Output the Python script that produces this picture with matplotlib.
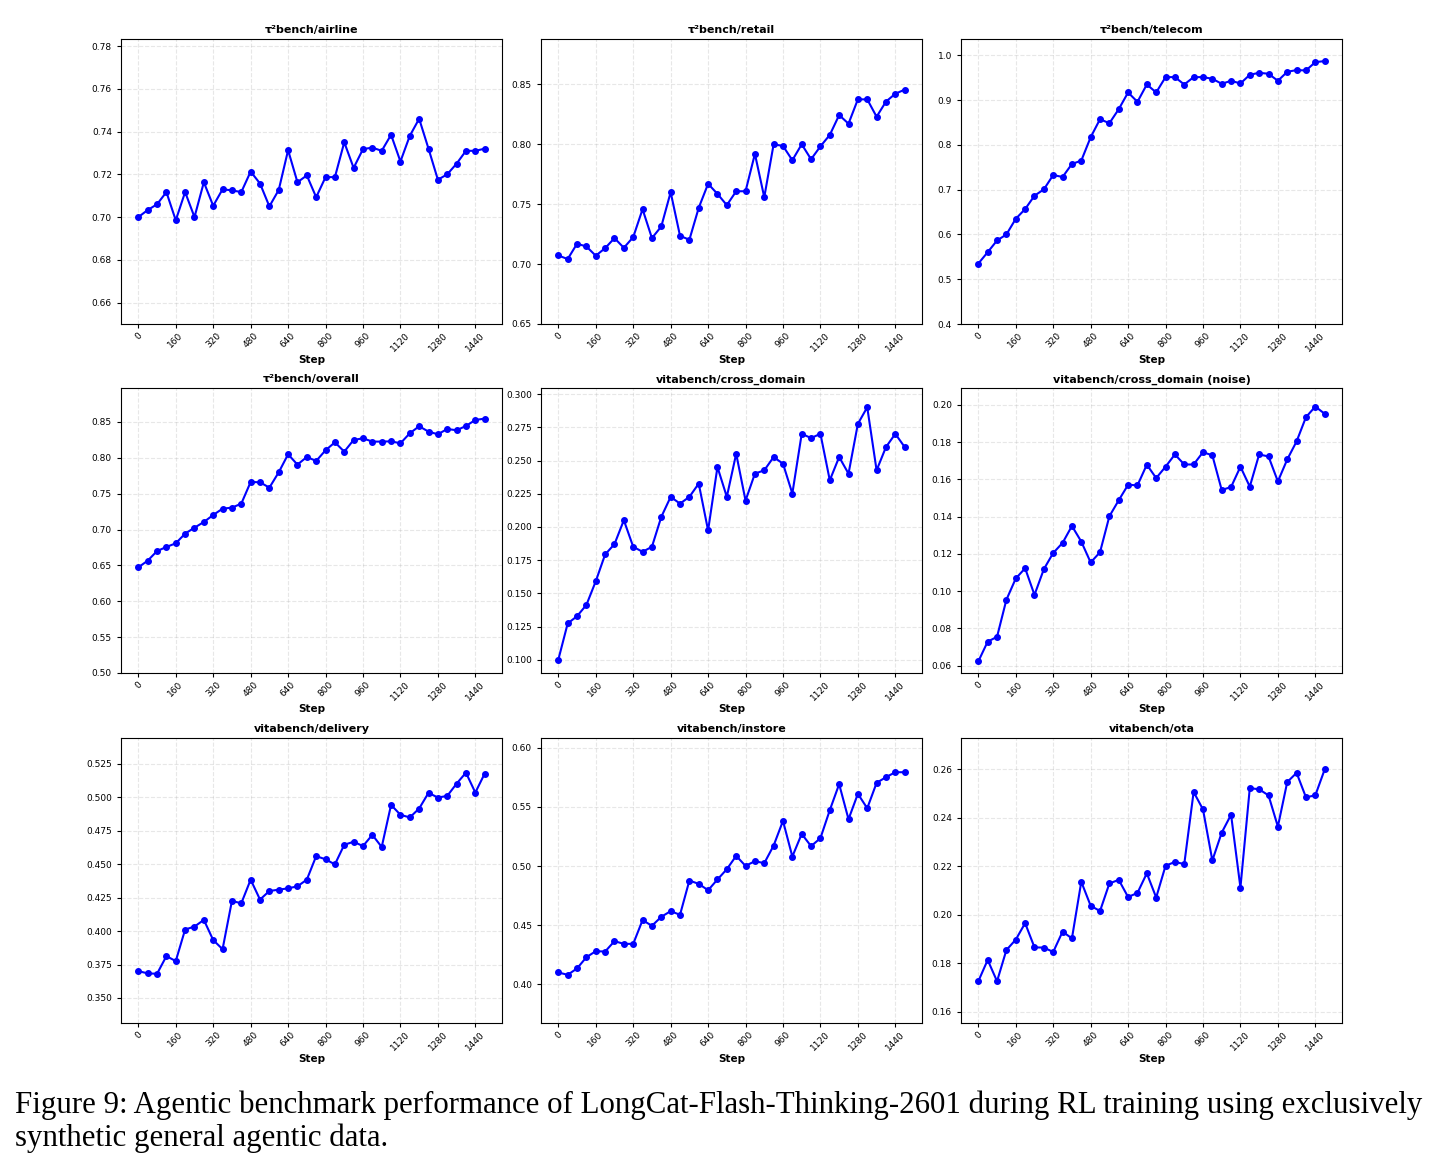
import matplotlib.pyplot as plt
import numpy as np

# steps logged every 40 training steps
steps = list(range(0, 1481, 40))

titles = [
    "τ²bench/airline", "τ²bench/retail", "τ²bench/telecom",
    "τ²bench/overall", "vitabench/cross_domain", "vitabench/cross_domain (noise)",
    "vitabench/delivery", "vitabench/instore", "vitabench/ota",
]

airline = [0.700, 0.7033, 0.706, 0.7117, 0.6985, 0.7117, 0.700, 0.7163, 0.7053, 0.713,
           0.7125, 0.7117, 0.7213, 0.7157, 0.705, 0.7127, 0.7313, 0.7163, 0.7195, 0.7093,
           0.7187, 0.7187, 0.735, 0.723, 0.7318, 0.7325, 0.731, 0.7385, 0.726, 0.738,
           0.746, 0.732, 0.7175, 0.720, 0.725, 0.731, 0.731, 0.732]
retail = [0.7072, 0.7042, 0.717, 0.7147, 0.707, 0.7133, 0.7217, 0.7136, 0.7225, 0.7458,
          0.7217, 0.7314, 0.760, 0.7236, 0.7203, 0.747, 0.767, 0.7586, 0.7492, 0.7608,
          0.7608, 0.792, 0.7558, 0.800, 0.7986, 0.7867, 0.800, 0.7875, 0.7983, 0.8078,
          0.8244, 0.8172, 0.8375, 0.8375, 0.823, 0.8356, 0.8422, 0.8456]
telecom = [0.535, 0.5604, 0.5866, 0.600, 0.635, 0.6567, 0.6866, 0.7007, 0.7328, 0.7284,
           0.7575, 0.765, 0.8172, 0.8575, 0.8485, 0.8799, 0.9172, 0.8963, 0.9351, 0.9172,
           0.9515, 0.9515, 0.935, 0.9515, 0.9515, 0.9478, 0.9366, 0.9433, 0.9373, 0.9567,
           0.9612, 0.959, 0.9433, 0.9634, 0.9672, 0.9664, 0.985, 0.9873]
overall = [0.6473, 0.6566, 0.670, 0.6757, 0.6808, 0.6943, 0.7026, 0.7105, 0.7203, 0.7291,
           0.7305, 0.7361, 0.7663, 0.7659, 0.7584, 0.7798, 0.8049, 0.7905, 0.8012, 0.7956,
           0.8105, 0.8216, 0.8086, 0.8249, 0.8272, 0.8226, 0.8226, 0.823, 0.8202, 0.8342,
           0.844, 0.8365, 0.8328, 0.8402, 0.8384, 0.8444, 0.8528, 0.8546]
cross_domain = [0.100, 0.1273, 0.1328, 0.1413, 0.1591, 0.1793, 0.1871, 0.2051, 0.1851, 0.1813,
                0.1851, 0.2076, 0.2227, 0.2176, 0.2227, 0.2327, 0.1974, 0.2452, 0.2227, 0.2552,
                0.2199, 0.2402, 0.2427, 0.2527, 0.2477, 0.2252, 0.2702, 0.267, 0.2702, 0.2352,
                0.2527, 0.2402, 0.2777, 0.2902, 0.2427, 0.2602, 0.2702, 0.2602]
cross_noise = [0.0623, 0.0729, 0.0755, 0.0954, 0.1068, 0.1123, 0.098, 0.1118, 0.1205, 0.1259,
               0.135, 0.1266, 0.1154, 0.1209, 0.1402, 0.1488, 0.1571, 0.1568, 0.1679, 0.1607,
               0.1668, 0.1734, 0.168, 0.168, 0.1746, 0.1729, 0.1543, 0.1559, 0.1668, 0.1561,
               0.1734, 0.1723, 0.1589, 0.1707, 0.1804, 0.1934, 0.1991, 0.1952]
delivery = [0.3701, 0.3684, 0.3681, 0.3813, 0.3776, 0.4012, 0.4034, 0.4084, 0.3933, 0.3865,
            0.4226, 0.4208, 0.4385, 0.4236, 0.430, 0.431, 0.432, 0.4335, 0.4385, 0.4561,
            0.4537, 0.4499, 0.4646, 0.4668, 0.4636, 0.472, 0.4629, 0.4944, 0.487, 0.485,
            0.4917, 0.5034, 0.4999, 0.5011, 0.5103, 0.5185, 0.5036, 0.5178]
instore = [0.4099, 0.4079, 0.4133, 0.4228, 0.4279, 0.4276, 0.4364, 0.4341, 0.4341, 0.4542,
           0.4494, 0.457, 0.4618, 0.4587, 0.4877, 0.4849, 0.4795, 0.4886, 0.4973, 0.5086,
           0.5001, 0.5041, 0.5024, 0.5173, 0.5382, 0.508, 0.5272, 0.5168, 0.5236, 0.5473,
           0.5693, 0.5396, 0.5611, 0.5489, 0.5704, 0.5752, 0.5794, 0.5794]
ota = [0.1725, 0.1813, 0.1725, 0.1854, 0.1897, 0.1965, 0.1865, 0.1864, 0.1846, 0.193,
       0.1902, 0.2136, 0.2037, 0.2015, 0.2129, 0.2144, 0.2073, 0.209, 0.2171, 0.2071,
       0.2202, 0.2218, 0.2209, 0.2507, 0.2435, 0.2224, 0.2339, 0.2413, 0.2112, 0.2523,
       0.2518, 0.2493, 0.2364, 0.2548, 0.2586, 0.2485, 0.2493, 0.260]

series = [airline, retail, telecom, overall, cross_domain, cross_noise, delivery, instore, ota]
# fixed lower y limits for the tau2 panels, None -> min*0.9
y_bottoms = [0.65, 0.65, 0.4, 0.5, None, None, None, None, None]

fig = plt.figure(figsize=(14.36, 11.69), dpi=100)
W, H = 1436, 1169
lefts = [121, 541, 961]
tops = [39, 388, 738]
aw, ah = 381, 285

for i, (title, vals) in enumerate(zip(titles, series)):
    r, c = divmod(i, 3)
    ax = fig.add_axes([lefts[c] / W, 1 - (tops[r] + ah) / H, aw / W, ah / H])
    ax.plot(steps, vals, color="blue", linewidth=1.5, marker="o", markersize=4)
    lo = y_bottoms[i] if y_bottoms[i] is not None else min(vals) * 0.9
    ax.set_ylim(lo, max(vals) * 1.05)
    ax.set_xticks(range(0, 1441, 160))
    ax.tick_params(axis="x", labelrotation=45, labelsize=6.5, length=3, pad=2)
    ax.tick_params(axis="y", labelsize=6.5, length=3)
    ax.grid(True, linestyle="--", alpha=0.3)
    ax.set_title(title, fontsize=8, fontweight="bold", pad=4)
    ax.set_xlabel("Step", fontsize=7.5, fontweight="bold", labelpad=1)

fig.text(15 / W, 1 - 1113 / H,
         "Figure 9: Agentic benchmark performance of LongCat-Flash-Thinking-2601 during RL training using exclusively",
         family="Liberation Serif", fontsize=22.2, va="baseline")
fig.text(15 / W, 1 - 1146 / H, "synthetic general agentic data.",
         family="Liberation Serif", fontsize=22.2, va="baseline")

fig.savefig("out.png", dpi=100)
